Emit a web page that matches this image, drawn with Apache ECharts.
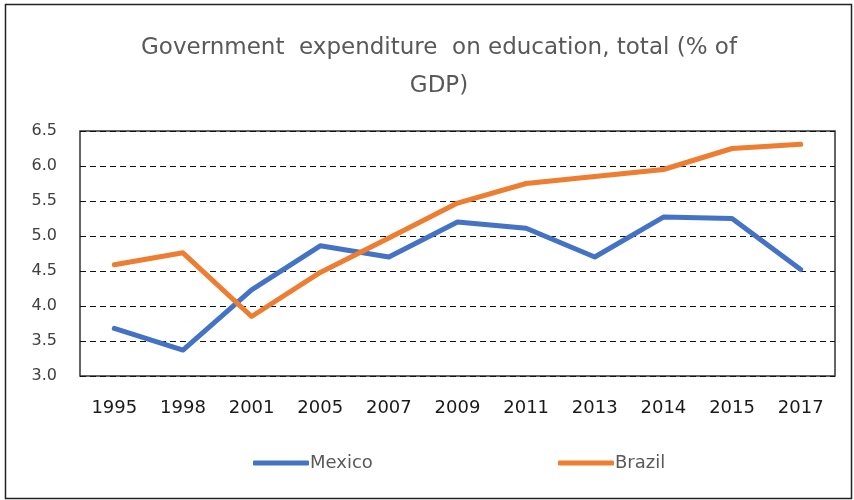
<!DOCTYPE html>
<html>
<head>
<meta charset="utf-8">
<script src="https://cdn.jsdelivr.net/npm/echarts@6/dist/echarts.min.js"></script>
<style>
  html, body { margin: 0; padding: 0; background: #fff; }
  #chart { width: 854px; height: 500px; }
</style>
</head>
<body>
<div id="chart"></div>
<script>
// Government expenditure on education, total (% of GDP)
const years = ['1995', '1998', '2001', '2005', '2007', '2009', '2011', '2013', '2014', '2015', '2017'];
const mexico = [3.68, 3.37, 4.23, 4.86, 4.70, 5.20, 5.11, 4.70, 5.27, 5.25, 4.52];
const brazil = [4.59, 4.76, 3.85, 4.48, 4.97, 5.47, 5.75, 5.85, 5.95, 6.25, 6.31];
const seriesNames = ['Mexico', 'Brazil'];
const titleText = 'Government  expenditure  on education, total (% of\nGDP)';

const FONT = '"DejaVu Sans", "Open Sans", sans-serif';
const COLORS = ['#4472C4', '#ED7D31'];

function legendAt(name, left) {
  return {
    left: left,
    top: 449,
    itemWidth: 56,
    itemHeight: 5,
    icon: 'roundRect',
    textStyle: { color: '#595959', fontFamily: FONT, fontSize: 18, padding: [0, 0, 0, -4] },
    data: [name]
  };
}

const chart = echarts.init(document.getElementById('chart'), null, { renderer: 'canvas' });
chart.setOption({
  animation: false,
  backgroundColor: '#fff',
  title: {
    text: titleText,
    left: 434,
    textAlign: 'center',
    top: 24,
    textStyle: {
      color: '#595959',
      fontFamily: FONT,
      fontWeight: 'normal',
      fontSize: 23,
      lineHeight: 38
    }
  },
  graphic: [{
    type: 'rect',
    shape: { x: 5.5, y: 4.5, width: 846, height: 494 },
    style: { fill: 'none', stroke: '#222', lineWidth: 1.5 },
    silent: true
  }],
  legend: [legendAt(seriesNames[0], 248), legendAt(seriesNames[1], 553)],
  grid: {
    left: 80, right: 19, top: 131, bottom: 124,
    show: true, borderColor: '#333', borderWidth: 1.5,
    containLabel: false
  },
  xAxis: {
    type: 'category',
    data: years,
    boundaryGap: true,
    axisLine: { show: false },
    axisTick: { show: false },
    axisLabel: { color: '#1a1a1a', fontFamily: FONT, fontSize: 18, margin: 23 },
    splitLine: { show: false }
  },
  yAxis: {
    type: 'value',
    min: 3.0, max: 6.5, interval: 0.5,
    axisLine: { show: false },
    axisTick: { show: false },
    axisLabel: {
      color: '#404040', fontFamily: FONT, fontSize: 16, margin: 23,
      formatter: v => v.toFixed(1)
    },
    splitLine: { show: true, lineStyle: { color: '#111', type: [6, 4], width: 1.2 } }
  },
  series: [
    {
      name: seriesNames[0], type: 'line', data: mexico,
      showSymbol: false, symbol: 'none',
      lineStyle: { color: COLORS[0], width: 5, cap: 'round', join: 'round' },
      itemStyle: { color: COLORS[0] }
    },
    {
      name: seriesNames[1], type: 'line', data: brazil,
      showSymbol: false, symbol: 'none',
      lineStyle: { color: COLORS[1], width: 5, cap: 'round', join: 'round' },
      itemStyle: { color: COLORS[1] }
    }
  ]
});
</script>
</body>
</html>
